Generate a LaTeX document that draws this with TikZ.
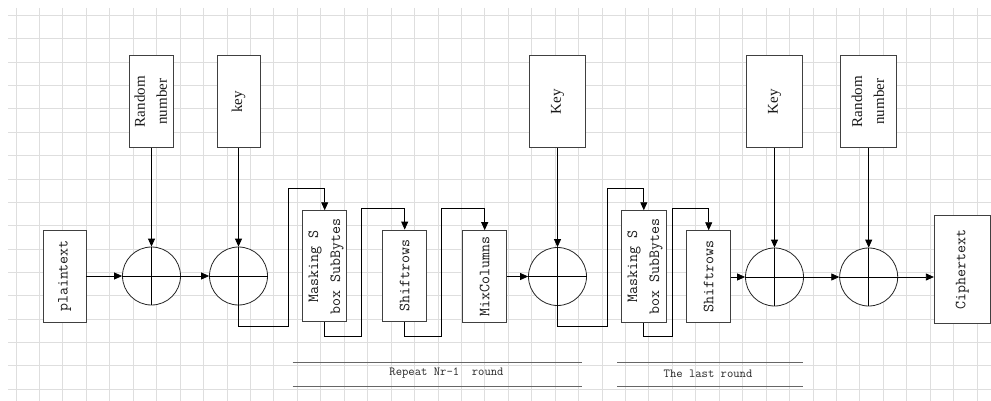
\documentclass[tikz,border=0pt]{standalone}
\usepackage{fontspec}
\setmainfont{Liberation Serif}
\usetikzlibrary{arrows.meta}
\begin{document}
\begin{tikzpicture}[x=1pt,y=-1pt,
  gridline/.style={draw=black!13, line width=0.8pt},
  box/.style={draw=black!75, line width=0.9pt, fill=white, inner sep=0pt, text=black!90},
  arr/.style={-{Triangle[width=7pt,length=8pt]}, line width=0.8pt},
  ln/.style={line width=0.8pt},
  xorc/.style={circle, draw=black!85, line width=0.8pt, fill=white, minimum size=58pt, inner sep=0pt},
  mono/.style={font=\fontsize{15.5}{22}\ttfamily},
  serif/.style={font=\fontsize{15}{22}\selectfont},
  rulegray/.style={draw=black!60, line width=0.9pt},
  small/.style={font=\fontsize{12.3}{14}\ttfamily, text=black!85, inner sep=0pt}
]
\useasboundingbox (0,0) rectangle (991,401);
\fill[white] (0,0) rectangle (991,401);
% grid
\foreach \k in {0,...,41} \draw[gridline] ({16+23.44*\k},8) -- ({16+23.44*\k},401);
\foreach \k in {0,...,16} \draw[gridline] (8,{15.5+23.35*\k}) -- (991,{15.5+23.35*\k});

% top boxes
\node[box, serif, minimum width=43pt, minimum height=92.5pt] (rn1) at (151.5,101.7)
  {\rotatebox{90}{\begin{tabular}{@{}c@{}}Random\\number\end{tabular}}};
\node[box, serif, minimum width=43pt, minimum height=92.5pt] (k1) at (238.5,101.7) {\rotatebox{90}{key}};
\node[box, serif, minimum width=56.4pt, minimum height=92.5pt] (k2) at (557.5,101.7) {\rotatebox{90}{Key}};
\node[box, serif, minimum width=56.4pt, minimum height=92.5pt] (k3) at (774.5,101.7) {\rotatebox{90}{Key}};
\node[box, serif, minimum width=56pt, minimum height=92.5pt] (rn2) at (868.7,101.7)
  {\rotatebox{90}{\begin{tabular}{@{}c@{}}Random\\number\end{tabular}}};

% main row boxes
\node[box, mono, minimum width=43pt, minimum height=92pt] (pt) at (64.5,276) {\rotatebox{90}{plaintext}};
\node[box, mono, minimum width=44pt, minimum height=111pt] (m1) at (324.7,266.2)
  {\rotatebox{90}{\begin{tabular}{@{}c@{}}Masking S\\box SubBytes\end{tabular}}};
\node[box, mono, minimum width=44pt, minimum height=91.7pt] (s1) at (404.7,275.9) {\rotatebox{90}{Shiftrows}};
\node[box, mono, minimum width=44pt, minimum height=91.3pt] (mc) at (484.7,276.3) {\rotatebox{90}{MixColumns}};
\node[box, mono, minimum width=44.3pt, minimum height=112pt] (m2) at (643.8,266.7)
  {\rotatebox{90}{\begin{tabular}{@{}c@{}}Masking S\\box SubBytes\end{tabular}}};
\node[box, mono, minimum width=44pt, minimum height=92pt] (s2) at (708.7,276.7) {\rotatebox{90}{Shiftrows}};
\node[box, mono, minimum width=55.7pt, minimum height=108.3pt] (ct) at (962.2,269.2) {\rotatebox{90}{Ciphertext}};

% xor circles
\node[xorc] (c1) at (151.5,276) {};
\node[xorc] (c2) at (238.5,276) {};
\node[xorc] (c3) at (557.5,276.5) {};
\node[xorc] (c4) at (774.5,277) {};
\node[xorc] (c5) at (868.7,277) {};
\foreach \c in {c1,c2,c3,c4,c5} {
  \draw[ln] (\c.west) -- (\c.east);
  \draw[ln] (\c.north) -- (\c.south);
}

% vertical inputs
\draw[arr] (rn1.south) -- (c1.north);
\draw[arr] (k1.south) -- (c2.north);
\draw[arr] (k2.south) -- (c3.north);
\draw[arr] (k3.south) -- (c4.north);
\draw[arr] (rn2.south) -- (c5.north);

% horizontal flow
\draw[arr] (pt.east) -- (c1.west);
\draw[arr] (c1.east) -- (c2.west);
\draw[arr] (mc.east |- c3) -- (c3.west);
\draw[arr] (s2.east |- c4) -- (c4.west);
\draw[arr] (c4.east) -- (c5.west);
\draw[arr] (c5.east) -- (ct.west |- c5);

% snake connectors
\coordinate (a1) at (288,326);
\coordinate (a2) at (288,188);
\draw[arr] (c2.south) |- (a1) -- (a2) -| (m1.north);
\coordinate (b1) at (361.7,336);
\coordinate (b2) at (361.7,208);
\draw[arr] (m1.south) |- (b1) -- (b2) -| (s1.north);
\coordinate (d1) at (441.7,336);
\coordinate (d2) at (441.7,208);
\draw[arr] (s1.south) |- (d1) -- (d2) -| (mc.north);
\coordinate (e1) at (607.3,326.7);
\coordinate (e2) at (607.3,188);
\draw[arr] (c3.south) |- (e1) -- (e2) -| (m2.north);
\coordinate (f1) at (672.3,336.7);
\coordinate (f2) at (672.3,208.3);
\draw[arr] (m2.south) |- (f1) -- (f2) -| (s2.north);

% round labels
\coordinate (r1a) at (292.7,362.7); \coordinate (r1b) at (582.3,362.7);
\coordinate (r1c) at (292.7,386);   \coordinate (r1d) at (582.3,386);
\draw[rulegray] (r1a) -- (r1b);
\draw[rulegray] (r1c) -- (r1d);
\node[small] (rep) at (446.5,373.3) {Repeat Nr-1\ \ round};
\coordinate (r2a) at (617.3,362.7); \coordinate (r2b) at (802.7,362.7);
\coordinate (r2c) at (617.3,386);   \coordinate (r2d) at (802.7,386);
\draw[rulegray] (r2a) -- (r2b);
\draw[rulegray] (r2c) -- (r2d);
\node[small] (last) at (708,373.3) {The last round};
\end{tikzpicture}
\end{document}
